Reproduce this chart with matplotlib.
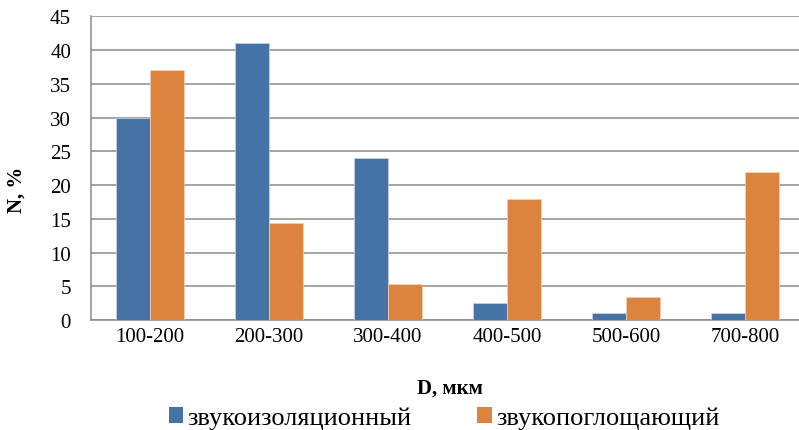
import numpy as np
import matplotlib
matplotlib.use("Agg")
import matplotlib.pyplot as plt
from matplotlib.patches import Patch

plt.rcParams['font.family'] = ['Liberation Serif', 'DejaVu Serif']

categories = ["100-200", "200-300", "300-400", "400-500", "500-600", "700-800"]
insulating = [30, 41, 24, 2.5, 1, 1]
absorbing = [37, 14.4, 5.3, 18, 3.4, 22]
series_names = ["звукоизоляционный", "звукопоглощающий"]
y_ticks = [0, 5, 10, 15, 20, 25, 30, 35, 40, 45]

blue = "#4673A6"
orange = "#DC843E"
grid_gray = "#8C8C8C"

W, H = 799, 431
fig = plt.figure(figsize=(W / 100, H / 100), dpi=100)
ax = fig.add_axes([90.5 / W, 110 / H, 714 / W, 303.7 / H])

x = np.arange(len(categories))
bw = 1 / 3.5
ax.bar(x - bw / 2, insulating, width=bw, color=blue, edgecolor="#C9D6E8",
       linewidth=0.5, zorder=3)
ax.bar(x + bw / 2, absorbing, width=bw, color=orange, edgecolor="#F3D3BA",
       linewidth=0.5, zorder=3)

ax.set_xlim(-0.5, len(categories) - 0.5)
ax.set_ylim(0, 45)
ax.set_yticks(y_ticks)
ax.set_xticks(x)
ax.set_xticklabels(categories)
ax.tick_params(axis='y', length=0, pad=14, labelsize=15)
ax.tick_params(axis='x', length=0, pad=5, labelsize=15)

ax.yaxis.grid(True, color=grid_gray, linewidth=1.1, zorder=0)
ax.set_axisbelow(True)
for side in ("top", "right"):
    ax.spines[side].set_visible(False)
for side in ("left", "bottom"):
    ax.spines[side].set_color(grid_gray)
    ax.spines[side].set_linewidth(1.1)

fig.text(17 / W, 1 - 190 / H, "N, %", rotation=90, ha="center", va="center",
         fontsize=15, fontweight="bold")
fig.text(450 / W, 1 - 389 / H, "D, мкм", ha="center", va="center",
         fontsize=15, fontweight="bold")

handles = [Patch(facecolor=blue), Patch(facecolor=orange)]
fig.legend(handles, series_names, loc="center", ncol=2,
           bbox_to_anchor=(444 / W, 1 - 419 / H), frameon=False, fontsize=19,
           handlelength=0.55, handleheight=0.55, handletextpad=0.15,
           columnspacing=2.5, borderpad=0, borderaxespad=0)

fig.savefig("out.png", dpi=100)
